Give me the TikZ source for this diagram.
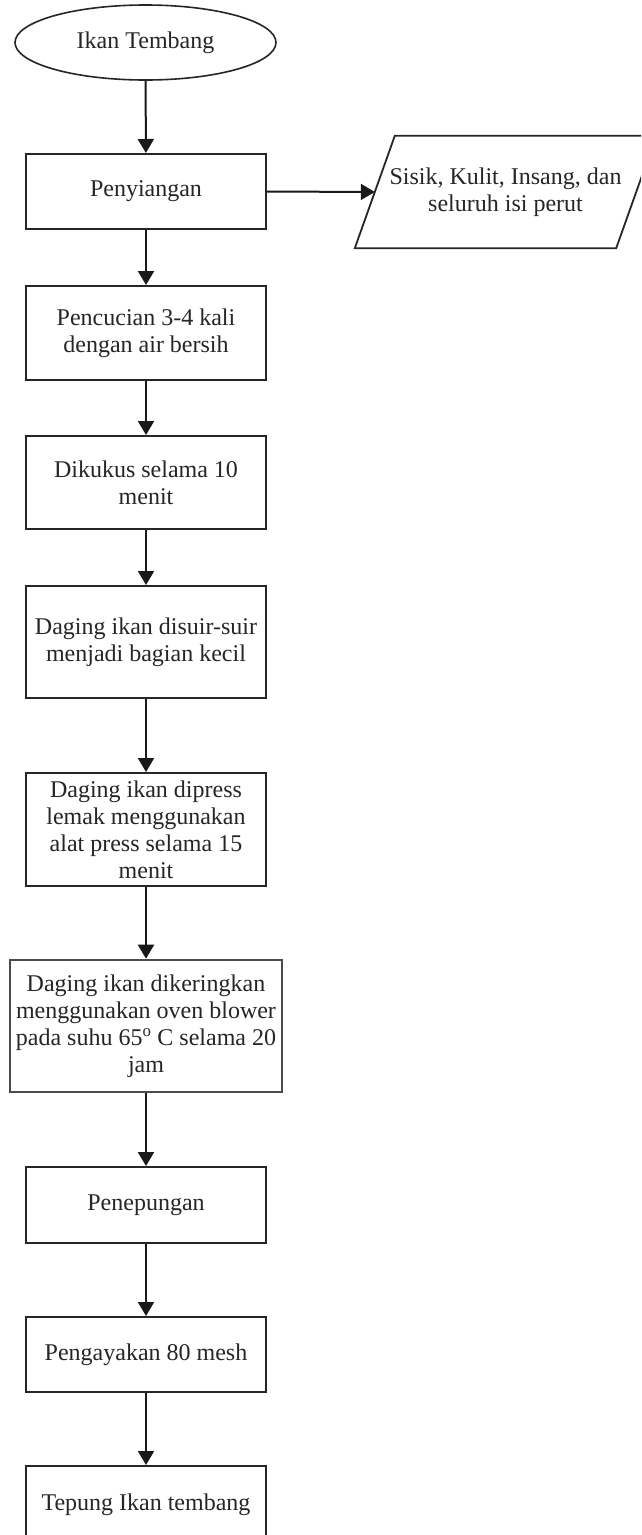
\documentclass[tikz,border=0pt]{standalone}
\usepackage{fontspec}
\setmainfont{Liberation Serif}
\usetikzlibrary{arrows.meta,shapes.geometric,calc}
\begin{document}
\begin{tikzpicture}[x=1pt,y=-1pt,
  every node/.style={font=\fontsize{24}{27}\selectfont, align=center, inner sep=2pt, text=black!85},
  proc/.style={draw=black!85, line width=2pt, rectangle, minimum width=240pt},
  term/.style={draw=black!85, line width=1.6pt, ellipse, minimum width=261pt, minimum height=75pt},
  flow/.style={draw=black!90, line width=2pt, -{Triangle[width=16pt,length=14pt]}}
]
\clip (0,0) rectangle (641,1535);
\fill[white] (0,0) rectangle (641,1535);

\node[term] (start) at (145.5,42.5) {Ikan Tembang};
\node[proc, minimum height=75pt] (siang) at (146,191.5) {Penyiangan};
\node[proc, minimum height=94pt] (cuci) at (146,333) {Pencucian 3-4 kali\\dengan air bersih};
\node[proc, minimum height=93pt] (kukus) at (146,482.5) {Dikukus selama 10\\menit};
\node[proc, minimum height=112pt] (suir) at (146,642) {Daging ikan disuir-suir\\menjadi bagian kecil};
\node[proc, minimum height=113pt] (press) at (146,829.5) {Daging ikan dipress\\lemak menggunakan\\alat press selama 15\\menit};
\node[proc, draw=black!70, line width=2.6pt, minimum width=272pt, minimum height=132pt] (oven) at (146,1026) {Daging ikan dikeringkan\\menggunakan oven blower\\pada suhu 65\textsuperscript{o} C selama 20\\jam};
\node[proc, minimum height=76pt] (tepung) at (146,1205) {Penepungan};
\node[proc, minimum height=75pt] (ayak) at (146,1354.5) {Pengayakan 80 mesh};
\node[proc, minimum height=78pt] (hasil) at (146,1505) {Tepung Ikan tembang};

\node[minimum width=261pt, minimum height=112pt] (limbah) at (505.5,192) {Sisik, Kulit, Insang, dan\\seluruh isi perut};
\draw[draw=black!85, line width=1.8pt] ($(limbah.south west)+(-20,0)$) -- ($(limbah.south east)+(-20,0)$)
  -- ($(limbah.north east)+(20,0)$) -- ($(limbah.north west)+(20,0)$) -- cycle;

\draw[flow] (start) -- (siang);
\draw[flow] (siang) -- (cuci);
\draw[flow] (cuci) -- (kukus);
\draw[flow] (kukus) -- (suir);
\draw[flow] (suir) -- (press);
\draw[flow] (press) -- (oven);
\draw[flow] (oven) -- (tepung);
\draw[flow] (tepung) -- (ayak);
\draw[flow] (ayak) -- (hasil);
\draw[flow] (siang.east) -- (limbah.west);
\end{tikzpicture}
\end{document}
